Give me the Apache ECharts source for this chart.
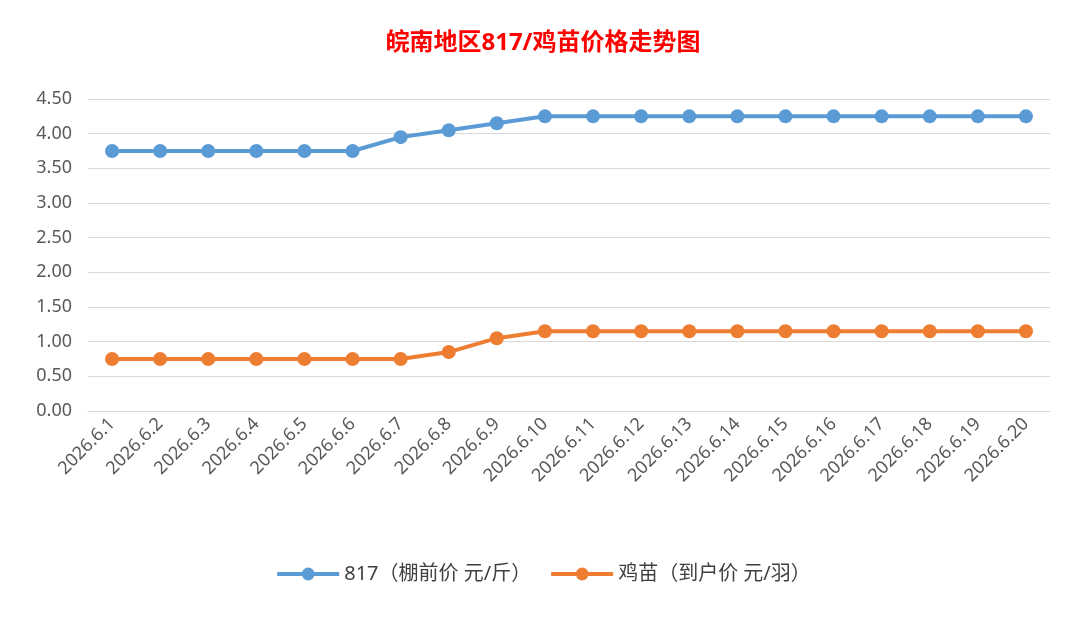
<!DOCTYPE html>
<html><head><meta charset="utf-8">
<script src="https://cdn.jsdelivr.net/npm/echarts@6/dist/echarts.min.js"></script>
<style>html,body{margin:0;padding:0;background:#fff}#c{width:1086px;height:617px}</style>
</head><body><div id="c"></div>
<script>
const categories = ['2026.6.1','2026.6.2','2026.6.3','2026.6.4','2026.6.5','2026.6.6','2026.6.7','2026.6.8','2026.6.9','2026.6.10','2026.6.11','2026.6.12','2026.6.13','2026.6.14','2026.6.15','2026.6.16','2026.6.17','2026.6.18','2026.6.19','2026.6.20'];
const price817 = [3.75,3.75,3.75,3.75,3.75,3.75,3.95,4.05,4.15,4.25,4.25,4.25,4.25,4.25,4.25,4.25,4.25,4.25,4.25,4.25];
const chickPrice = [0.75,0.75,0.75,0.75,0.75,0.75,0.75,0.85,1.05,1.15,1.15,1.15,1.15,1.15,1.15,1.15,1.15,1.15,1.15,1.15];
const names = ['817（棚前价 元/斤）','鸡苗（到户价 元/羽）'];
const chart = echarts.init(document.getElementById('c'));
const font = '"Noto Sans","Noto Sans CJK SC",sans-serif';
chart.setOption({
  animation:false,
  title:{text:'皖南地区817/鸡苗价格走势图',left:'center',top:26,textStyle:{color:'#ff0000',fontSize:24,fontWeight:'bold',fontFamily:font}},
  grid:{left:88,right:36,top:99,bottom:206},
  legend:{bottom:28,itemWidth:62,itemHeight:16,itemGap:18,lineStyle:{width:4},textStyle:{fontSize:20,color:'#404040',fontFamily:font},data:names},
  xAxis:{type:'category',data:categories,boundaryGap:true,
    axisLine:{lineStyle:{color:'#d9d9d9'}},axisTick:{show:false},
    axisLabel:{rotate:45,fontSize:18,color:'#595959',interval:0,fontFamily:font,margin:10}},
  yAxis:{type:'value',min:0,max:4.5,interval:0.5,
    axisLabel:{formatter:v=>v.toFixed(2),fontSize:18,color:'#595959',fontFamily:font,margin:16},
    splitLine:{lineStyle:{color:'#d9d9d9'}},axisLine:{show:false},axisTick:{show:false}},
  series:[
    {name:names[0],type:'line',data:price817,symbol:'circle',symbolSize:14,lineStyle:{width:4,color:'#5b9bd5'},itemStyle:{color:'#5b9bd5'}},
    {name:names[1],type:'line',data:chickPrice,symbol:'circle',symbolSize:14,lineStyle:{width:4,color:'#ed7d31'},itemStyle:{color:'#ed7d31'}}
  ]
});
</script></body></html>
